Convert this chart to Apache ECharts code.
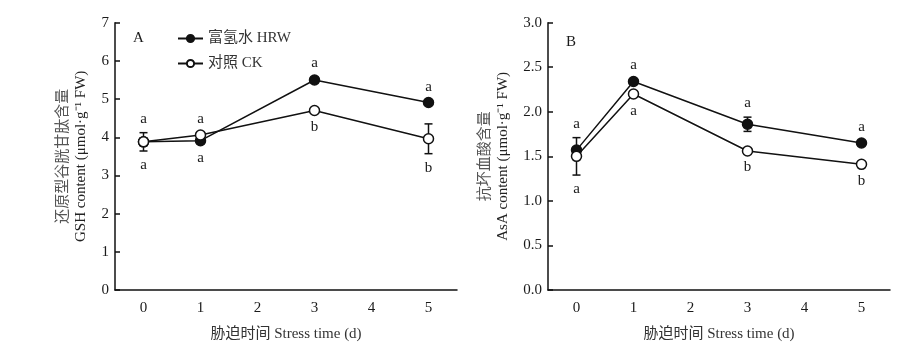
<!DOCTYPE html>
<html>
<head>
<meta charset="utf-8">
<script src="https://cdn.jsdelivr.net/npm/echarts@6/dist/echarts.min.js"></script>
<style>
html,body{margin:0;padding:0;background:#fff;}
#c{width:906px;height:362px;}
</style>
</head>
<body>
<div id="c"></div>
<script>
// ---- data ----
const days = ['0', '1', '2', '3', '4', '5'];
const gshHRW = [3.88, 3.91, null, 5.50, null, 4.91];
const gshHRWErr = [0.10, 0.08, null, 0.07, null, 0.04];
const gshCK = [3.88, 4.06, null, 4.70, null, 3.96];
const gshCKErr = [0.24, 0.05, null, 0.07, null, 0.39];
const asaHRW = [1.57, 2.34, null, 1.86, null, 1.65];
const asaHRWErr = [0.03, 0.03, null, 0.08, null, 0.02];
const asaCK = [1.50, 2.20, null, 1.56, null, 1.41];
const asaCKErr = [0.21, 0.03, null, 0.02, null, 0.03];
const gshTop = ['a', 'a', null, 'a', null, 'a'];
const gshBottom = ['a', 'a', null, 'b', null, 'b'];
const asaTop = ['a', 'a', null, 'a', null, 'a'];
const asaBottom = ['a', 'a', null, 'b', null, 'b'];
const gshYTicks = [0, 1, 2, 3, 4, 5, 6, 7];
const asaYTicks = ['0.0', '0.5', '1.0', '1.5', '2.0', '2.5', '3.0'];
const nameHRW = '富氢水 HRW';
const nameCK = '对照 CK';
const xTitle = '胁迫时间 Stress time (d)';
const yTitleA = ['还原型谷胱甘肽含量', 'GSH content (μmol·g⁻¹ FW)'];
const yTitleB = ['抗坏血酸含量', 'AsA content (μmol·g⁻¹ FW)'];

const SERIF = '"Liberation Serif", "Times New Roman", "Noto Sans CJK SC", serif';
const TXT = '#1a1a1a';

function errData(vals, errs) {
  const out = [];
  vals.forEach((v, i) => { if (v != null) out.push([i, v - errs[i], v + errs[i]]); });
  return out;
}
function errSeries(idx, vals, errs) {
  return {
    type: 'custom', xAxisIndex: idx, yAxisIndex: idx, z: 1, silent: true,
    data: errData(vals, errs),
    renderItem: function (params, api) {
      const lo = api.coord([api.value(0), api.value(1)]);
      const hi = api.coord([api.value(0), api.value(2)]);
      const w = 4;
      const st = { stroke: '#111', lineWidth: 1.5 };
      return { type: 'group', children: [
        { type: 'line', shape: { x1: lo[0], y1: lo[1], x2: hi[0], y2: hi[1] }, style: st },
        { type: 'line', shape: { x1: lo[0] - w, y1: lo[1], x2: lo[0] + w, y2: lo[1] }, style: st },
        { type: 'line', shape: { x1: hi[0] - w, y1: hi[1], x2: hi[0] + w, y2: hi[1] }, style: st }
      ]};
    }
  };
}
function letterSeries(idx, letters, a, ae, b, be, top) {
  const data = [];
  letters.forEach((t, i) => {
    if (t == null) return;
    const ext = top ? Math.max(a[i] + ae[i], b[i] + be[i]) : Math.min(a[i] - ae[i], b[i] - be[i]);
    data.push([i, ext]);
  });
  return {
    type: 'custom', xAxisIndex: idx, yAxisIndex: idx, z: 5, silent: true,
    data: data,
    renderItem: function (params, api) {
      const i = api.value(0);
      const p = api.coord([i, api.value(1)]);
      const t = letters[i];
      return { type: 'text', x: p[0], y: p[1] + (top ? -14 : 14),
        style: { text: t, fill: TXT, font: '15px ' + SERIF, align: 'center', verticalAlign: 'middle' } };
    }
  };
}
function lineSeries(idx, name, vals, filled) {
  return {
    type: 'line', name: name, xAxisIndex: idx, yAxisIndex: idx,
    data: vals, connectNulls: true, z: filled ? 3 : 4,
    symbol: 'circle', symbolSize: 10,
    lineStyle: { color: '#111', width: 1.5 },
    itemStyle: { color: filled ? '#111' : '#fff', borderColor: '#111', borderWidth: 1.5 },
    emphasis: { disabled: true }, animation: false
  };
}
function xAxis(idx) {
  return {
    type: 'category', gridIndex: idx, data: days, boundaryGap: true,
    axisLine: { lineStyle: { color: '#111', width: 1.5 } },
    axisTick: { alignWithLabel: true, inside: true, length: 5, lineStyle: { color: '#111', width: 1.5 } },
    axisLabel: { color: TXT, fontFamily: SERIF, fontSize: 15, margin: 11 },
    name: xTitle, nameLocation: 'middle', nameGap: 37,
    nameTextStyle: { color: '#333', fontFamily: SERIF, fontSize: 15 },
    splitLine: { show: false }
  };
}
function yAxis(idx, max, interval, labels, title, gap) {
  return {
    type: 'value', gridIndex: idx, min: 0, max: max, interval: interval,
    axisLine: { show: true, lineStyle: { color: '#111', width: 1.5 } },
    axisTick: { show: true, inside: true, length: 5, lineStyle: { color: '#111', width: 1.5 } },
    axisLabel: { color: TXT, fontFamily: SERIF, fontSize: 15, margin: 6,
      formatter: function (v) { return String(labels[Math.round(v / interval)]); } },
    splitLine: { show: false },
    name: '{c|' + title[0] + '}\n{e|' + title[1] + '}', nameLocation: 'middle', nameRotate: 90, nameGap: gap,
    nameTextStyle: { fontFamily: SERIF, fontSize: 15, lineHeight: 18,
      rich: { c: { color: '#555', fontFamily: SERIF, fontSize: 15, lineHeight: 18 },
              e: { color: '#222', fontFamily: SERIF, fontSize: 15, lineHeight: 18 } } }
  };
}

const chart = echarts.init(document.getElementById('c'), null, { renderer: 'canvas' });
chart.setOption({
  animation: false,
  backgroundColor: '#fff',
  grid: [
    { left: 115, top: 22.7, width: 342, height: 267.3, outerBoundsMode: 'none' },
    { left: 548, top: 22.7, width: 342, height: 267.3, outerBoundsMode: 'none' }
  ],
  legend: {
    left: 177, top: 31, padding: 0, orient: 'vertical', itemWidth: 25, itemHeight: 9, itemGap: 10,
    data: [nameHRW, nameCK], selectedMode: false,
    textStyle: { color: '#333', fontFamily: SERIF, fontSize: 15 }
  },
  graphic: [
    { type: 'text', left: 133, top: 31, style: { text: 'A', font: '15px ' + SERIF, fill: TXT } },
    { type: 'text', left: 566, top: 35, style: { text: 'B', font: '15px ' + SERIF, fill: TXT } }
  ],
  xAxis: [xAxis(0), xAxis(1)],
  yAxis: [yAxis(0, 7, 1, gshYTicks, yTitleA, 25), yAxis(1, 3, 0.5, asaYTicks, yTitleB, 36)],
  series: [
    errSeries(0, gshHRW, gshHRWErr), errSeries(0, gshCK, gshCKErr),
    lineSeries(0, nameHRW, gshHRW, true), lineSeries(0, nameCK, gshCK, false),
    letterSeries(0, gshTop, gshHRW, gshHRWErr, gshCK, gshCKErr, true),
    letterSeries(0, gshBottom, gshHRW, gshHRWErr, gshCK, gshCKErr, false),
    errSeries(1, asaHRW, asaHRWErr), errSeries(1, asaCK, asaCKErr),
    lineSeries(1, nameHRW, asaHRW, true), lineSeries(1, nameCK, asaCK, false),
    letterSeries(1, asaTop, asaHRW, asaHRWErr, asaCK, asaCKErr, true),
    letterSeries(1, asaBottom, asaHRW, asaHRWErr, asaCK, asaCKErr, false)
  ]
});
</script>
</body>
</html>
